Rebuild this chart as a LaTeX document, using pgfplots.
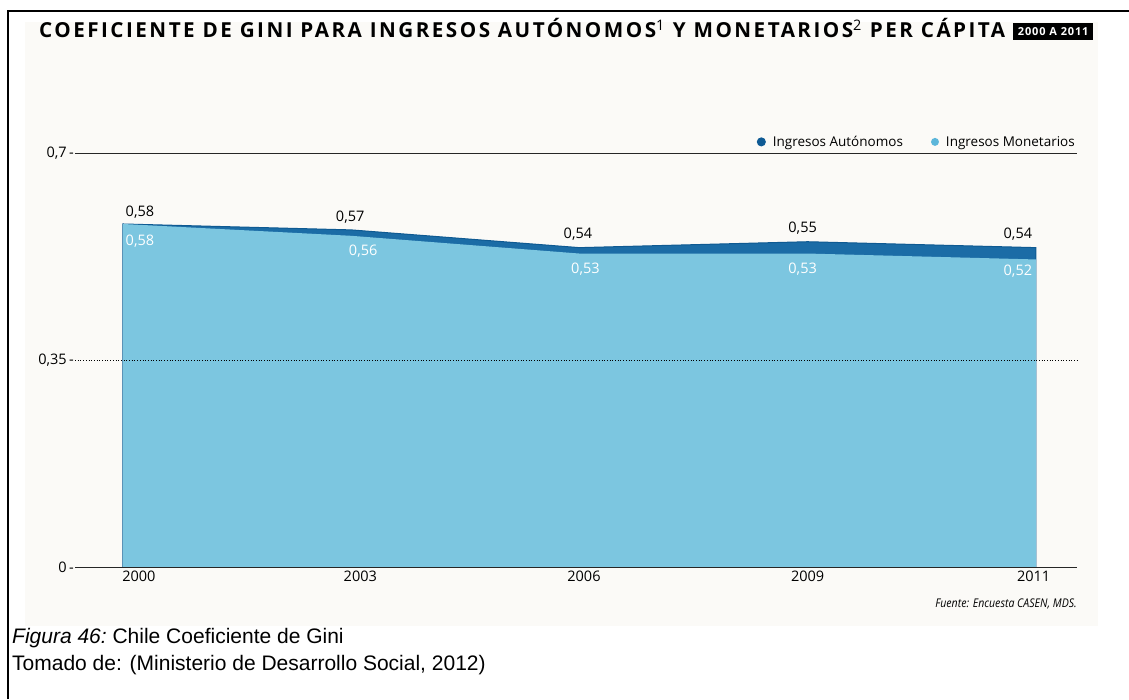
\documentclass[border=0pt]{standalone}
\usepackage{fontspec}
\usepackage{pgfplots}
\pgfplotsset{compat=1.18}
\setmainfont{Open Sans}
\newfontfamily\capfont{Liberation Sans}
\newfontfamily\titlefont[LetterSpace=12]{Open Sans}
\newfontfamily\boxfont[LetterSpace=8]{Open Sans}
\newfontfamily\condfont[FakeStretch=0.88]{Open Sans}
\definecolor{darkA}{HTML}{1B6CA6}
\definecolor{darkAline}{HTML}{0F5A92}
\definecolor{lightM}{HTML}{7CC6E0}
\definecolor{legA}{HTML}{0E5A94}
\definecolor{legM}{HTML}{5CB6DA}
\definecolor{panel}{HTML}{FBFAF7}

\pgfplotstableread{
x y dx dy
0 0.58 17 12
1 0.57 -1 13
2 0.54 -1.5 13
3 0.55 -5 13.5
4 0.54 -18 13.5
}\autlabels
\pgfplotstableread{
x y dx dy
0 0.58 17 -17
1 0.56 12 -15
2 0.53 6 -16
3 0.53 -5 -16
4 0.52 -18 -12
}\monlabels

\begin{document}
\begin{tikzpicture}
\useasboundingbox (0pt,0pt) rectangle (1129pt,699pt);
\fill[panel] (25pt,73pt) rectangle (1098pt,677pt);
\draw[line width=2pt] (8pt,0pt) -- (8pt,688pt) -- (1129pt,688pt);

\node[anchor=base west, inner sep=0pt] at (39pt,661pt)
  {\resizebox{966pt}{!}{\titlefont\bfseries\fontsize{17.5}{19}\selectfont COEFICIENTE DE GINI PARA INGRESOS AUTÓNOMOS\textsuperscript{\mdseries 1} Y MONETARIOS\textsuperscript{\mdseries 2} PER CÁPITA}};
\node[fill=black, text=white, minimum width=80pt, minimum height=17pt, inner sep=0pt, anchor=west]
  at (1013pt,667pt) {\boxfont\bfseries\fontsize{11}{12}\selectfont 2000 A 2011};

\begin{axis}[
  at={(75pt,132pt)}, anchor=south west,
  scale only axis, width=1002pt, height=414pt,
  xmin=-0.21, xmax=4.18, ymin=0, ymax=0.7,
  axis line style={draw=none},
  axis on top,
  major tick length=0pt,
  xtick={0.07,1.04,2.02,3.0,3.99},
  xticklabels={2000,2003,2006,2009,2011},
  ytick={0,0.7},
  yticklabels={{0\,-},{0{,}7\,-}},
  extra y ticks={0.35},
  extra y tick labels={0{,}35\,-},
  ymajorgrids,
  grid style={black!85, line width=0.7pt},
  extra y tick style={grid=major, major grid style={black, dotted, line width=1pt}},
  tick label style={font=\fontsize{14.5}{15}\selectfont},
  yticklabel style={inner sep=1pt},
  /pgf/number format/use comma,
  /pgf/number format/fixed,
  /pgf/number format/fixed zerofill,
  /pgf/number format/precision=2,
  /pgf/number format/assume math mode=true,
  legend style={at={(1,1)}, anchor=south east, draw=none, fill=none,
    font=\fontsize{13.5}{14}\selectfont, legend columns=2, yshift=1pt, xshift=3pt,
    /tikz/every even column/.append style={column sep=26pt}},
]
\addplot[fill=darkA, draw=darkAline, line width=1pt,
  legend image code/.code={\fill[legA] (0pt,0pt) circle (4pt); \path (9pt,0pt);}]
  coordinates {(0,0.58)(1,0.57)(2,0.54)(3,0.55)(4,0.54)} \closedcycle;
\addlegendentry{Ingresos Autónomos}
\addplot[fill=lightM, draw=none,
  legend image code/.code={\fill[legM] (0pt,0pt) circle (4pt); \path (9pt,0pt);}]
  coordinates {(0,0.58)(1,0.56)(2,0.53)(3,0.53)(4,0.52)} \closedcycle;
\addlegendentry{Ingresos Monetarios}

\addplot[draw=none, mark=none, forget plot, nodes near coords,
  point meta=\thisrow{y},
  visualization depends on={\thisrow{dx}\as\mydx},
  visualization depends on={\thisrow{dy}\as\mydy},
  nodes near coords style={anchor=center, xshift=\mydx pt, yshift=\mydy pt,
    text=black, font=\fontsize{14.5}{16}\selectfont}]
  table[x=x, y=y] {\autlabels};
\addplot[draw=none, mark=none, forget plot, nodes near coords,
  point meta=\thisrow{y},
  visualization depends on={\thisrow{dx}\as\mydx},
  visualization depends on={\thisrow{dy}\as\mydy},
  nodes near coords style={anchor=center, xshift=\mydx pt, yshift=\mydy pt,
    text=white, font=\fontsize{14.5}{16}\selectfont}]
  table[x=x, y=y] {\monlabels};
\end{axis}

\node[anchor=base east, inner sep=0pt] at (1077pt,92pt)
  {\condfont\itshape\fontsize{12}{13}\selectfont Fuente: Encuesta CASEN, MDS.};

\node[anchor=base west, inner sep=0pt] at (12pt,56pt)
  {\capfont\fontsize{21}{24}\selectfont\itshape Figura 46:\upshape\ Chile Coeficiente de Gini};
\node[anchor=base west, inner sep=0pt] at (12pt,29pt)
  {\capfont\fontsize{21}{24}\selectfont Tomado de: (Ministerio de Desarrollo Social, 2012)};
\end{tikzpicture}
\end{document}
